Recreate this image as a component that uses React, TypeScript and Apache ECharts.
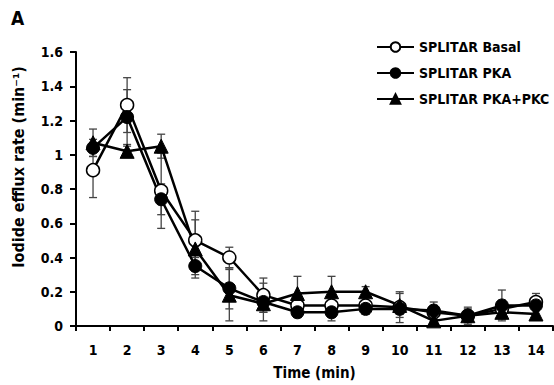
import React, { useEffect, useRef } from "react";
import * as echarts from "echarts";

const categories = ["1", "2", "3", "4", "5", "6", "7", "8", "9", "10", "11", "12", "13", "14"];
const seriesNames = ["SPLITΔR Basal", "SPLITΔR PKA", "SPLITΔR PKA+PKC"];
const basal = [0.91, 1.29, 0.79, 0.5, 0.4, 0.18, 0.12, 0.12, 0.12, 0.11, 0.08, 0.06, 0.1, 0.14];
const basalErr = [0.16, 0.16, 0.22, 0.17, 0.06, 0.1, 0.05, 0.05, 0.05, 0.09, 0.04, 0.04, 0.05, 0.05];
const pka = [1.04, 1.22, 0.74, 0.35, 0.22, 0.14, 0.08, 0.08, 0.1, 0.1, 0.09, 0.06, 0.12, 0.12];
const pkaErr = [0.05, 0.16, 0.09, 0.05, 0.12, 0.11, 0.03, 0.05, 0.03, 0.03, 0.05, 0.05, 0.09, 0.03];
const pkc = [1.07, 1.02, 1.05, 0.45, 0.18, 0.13, 0.19, 0.2, 0.2, 0.12, 0.03, 0.06, 0.08, 0.07];
const pkcErr = [0.08, 0.03, 0.07, 0.17, 0.15, 0.05, 0.1, 0.09, 0.03, 0.07, 0.03, 0.03, 0.04, 0.03];

const FONT = "'DejaVu Sans Condensed', 'DejaVu Sans', sans-serif";

function errData(vals: number[], errs: number[]) {
  return vals.map((v, i) => [i, Math.max(0, v - errs[i]), v + errs[i]]);
}

function errorSeries(vals: number[], errs: number[]) {
  return {
    type: "custom",
    z: 1,
    silent: true,
    encode: { x: 0, y: [1, 2] },
    data: errData(vals, errs),
    renderItem: (params: any, api: any) => {
      const x = api.value(0);
      const pLo = api.coord([x, api.value(1)]);
      const pHi = api.coord([x, api.value(2)]);
      const hw = 4;
      const style = { stroke: "#444", lineWidth: 1.3 };
      return {
        type: "group",
        children: [
          { type: "line", shape: { x1: pHi[0], y1: pHi[1], x2: pLo[0], y2: pLo[1] }, style },
          { type: "line", shape: { x1: pHi[0] - hw, y1: pHi[1], x2: pHi[0] + hw, y2: pHi[1] }, style },
          { type: "line", shape: { x1: pLo[0] - hw, y1: pLo[1], x2: pLo[0] + hw, y2: pLo[1] }, style },
        ],
      };
    },
  };
}

export default function App() {
  const ref = useRef<HTMLDivElement>(null);
  useEffect(() => {
    if (!ref.current) return;
    const chart = echarts.init(ref.current, undefined, { renderer: "svg" });
    const lineCommon = {
      type: "line",
      z: 3,
      lineStyle: { color: "#000", width: 2.5 },
    };
    chart.setOption({
      animation: false,
      backgroundColor: "#fff",
      grid: { left: 76, right: 1, top: 52, bottom: 54, containLabel: false },
      legend: {
        orient: "vertical",
        left: 371,
        top: 35,
        itemWidth: 37,
        itemHeight: 12,
        itemGap: 12,
        textStyle: { fontFamily: FONT, fontWeight: "bold", fontSize: 14, color: "#000" },
        data: seriesNames,
      },
      graphic: [
        {
          type: "text",
          left: 11,
          top: 8,
          style: { text: "A", fontFamily: FONT, fontWeight: "bold", fontSize: 19, fill: "#000" },
        },
        {
          type: "text",
          x: 18,
          y: 167,
          rotation: Math.PI / 2,
          style: {
            text: "Iodide efflux rate (min⁻¹)",
            fontFamily: FONT,
            fontWeight: "bold",
            fontSize: 16,
            fill: "#000",
            align: "center",
            verticalAlign: "middle",
          },
        },
      ],
      xAxis: {
        type: "category",
        data: categories,
        boundaryGap: true,
        name: "Time (min)",
        nameLocation: "middle",
        nameGap: 39,
        nameTextStyle: { fontFamily: FONT, fontWeight: "bold", fontSize: 15, color: "#000" },
        axisLine: { lineStyle: { color: "#000", width: 2 } },
        axisTick: { show: true, length: 5, lineStyle: { color: "#000", width: 2 } },
        axisLabel: { fontFamily: FONT, fontWeight: "bold", fontSize: 14, color: "#000", margin: 17 },
        splitLine: { show: false },
      },
      yAxis: {
        type: "value",
        min: 0,
        max: 1.6,
        interval: 0.2,
        axisLine: { show: true, lineStyle: { color: "#000", width: 2 } },
        axisTick: { show: true, length: 6, lineStyle: { color: "#000", width: 2 } },
        axisLabel: { fontFamily: FONT, fontWeight: "bold", fontSize: 14, color: "#000", margin: 13 },
        splitLine: { show: false },
      },
      series: [
        errorSeries(basal, basalErr),
        errorSeries(pka, pkaErr),
        errorSeries(pkc, pkcErr),
        {
          ...lineCommon,
          name: seriesNames[0],
          data: basal,
          symbol: "circle",
          symbolSize: 13,
          itemStyle: { color: "#fff", borderColor: "#000", borderWidth: 1.5 },
        },
        {
          ...lineCommon,
          name: seriesNames[1],
          data: pka,
          symbol: "circle",
          symbolSize: 13,
          itemStyle: { color: "#000", borderColor: "#000", borderWidth: 1 },
        },
        {
          ...lineCommon,
          name: seriesNames[2],
          data: pkc,
          symbol: "triangle",
          symbolSize: 14,
          itemStyle: { color: "#000", borderColor: "#000", borderWidth: 1 },
        },
      ],
    });
    return () => chart.dispose();
  }, []);
  return (
    <div
      ref={ref}
      style={{ position: "absolute", left: 0, top: 0, width: 554, height: 385, background: "#fff" }}
    />
  );
}
